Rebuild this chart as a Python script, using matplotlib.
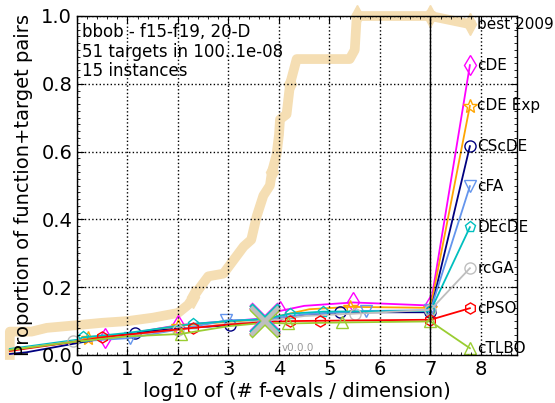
import matplotlib
matplotlib.use("Agg")
import matplotlib.pyplot as plt
from matplotlib.ticker import MultipleLocator

# Dane
best_x = [-1.33, -1.33, -0.9, -0.6, 0.0, 0.5, 1.0, 1.5, 2.0, 2.2, 2.3, 2.44, 2.6, 2.9,
          3.1, 3.3, 3.45, 3.56, 3.69, 3.82, 3.86, 3.95, 4.0, 4.02, 4.15, 4.22, 4.35,
          5.4, 5.5, 5.54, 7.0]
best_y = [0.0, 0.069, 0.069, 0.08, 0.088, 0.095, 0.1, 0.11, 0.124, 0.148, 0.17, 0.2, 0.232, 0.24,
          0.28, 0.32, 0.34, 0.41, 0.47, 0.5, 0.54, 0.59, 0.65, 0.695, 0.71, 0.8, 0.873,
          0.873, 0.9, 1.0, 1.0]
best_marks = [10, 20, 25, 29, 30]

names = ["cDE", "cDE Exp", "CScDE", "cFA", "DEcDE", "rcGA", "cPSO", "cTLBO"]
colors = ["#FF00FF", "#FFA500", "#000080", "#6495ED", "#00BFBF", "#BEBEBE", "#FF0000", "#9ACD32"]
markers = ["d", "*", "o", "v", "p", "o", "h", "^"]

curves_x = [
    [-1.33, 0.0, 0.55, 1.0, 2.0, 3.0, 3.72, 4.02, 4.5, 5.47, 7.0],
    [-1.33, 0.0, 0.22, 1.0, 2.0, 3.0, 3.72, 4.0, 4.6, 5.41, 7.0],
    [-1.33, -1.0, 0.0, 1.15, 2.0, 3.03, 3.72, 4.5, 5.21, 7.0],
    [-1.33, 0.0, 1.05, 2.0, 2.96, 3.72, 4.5, 5.72, 7.0],
    [-1.33, 0.0, 0.12, 1.0, 2.3, 3.0, 3.72, 4.22, 4.88, 7.0],
    [-1.33, -0.07, 1.0, 2.0, 3.0, 3.72, 4.5, 5.5, 7.0],
    [-1.33, 0.0, 0.49, 1.0, 2.3, 3.0, 3.72, 4.22, 4.81, 7.0],
    [-1.33, 0.0, 1.0, 2.05, 3.0, 3.72, 4.18, 5.24, 7.0],
]
curves_y = [
    [0.015, 0.042, 0.05, 0.062, 0.088, 0.1, 0.108, 0.13, 0.145, 0.155, 0.146],
    [0.015, 0.04, 0.05, 0.062, 0.086, 0.098, 0.105, 0.115, 0.135, 0.142, 0.139],
    [0.003, 0.008, 0.035, 0.066, 0.078, 0.088, 0.1, 0.118, 0.126, 0.126],
    [0.015, 0.04, 0.05, 0.075, 0.102, 0.105, 0.12, 0.13, 0.132],
    [0.018, 0.045, 0.052, 0.065, 0.092, 0.1, 0.106, 0.122, 0.128, 0.13],
    [0.015, 0.04, 0.058, 0.075, 0.092, 0.1, 0.115, 0.122, 0.133],
    [0.012, 0.04, 0.052, 0.06, 0.08, 0.09, 0.097, 0.1, 0.101, 0.104],
    [0.015, 0.04, 0.055, 0.062, 0.085, 0.095, 0.093, 0.096, 0.099],
]
curves_marks = [
    [2, 4, 7, 9, 10],
    [2, 4, 9, 10],
    [3, 5, 8, 9],
    [2, 4, 7, 8],
    [2, 4, 7, 8, 9],
    [1, 3, 7, 8],
    [2, 4, 7, 8, 9],
    [3, 6, 7, 8],
]
big_x_pos = 3.72

# etykiety po prawej: od gory cDE ... cTLBO
label_x = 7.78
label_y = [0.855, 0.735, 0.616, 0.498, 0.377, 0.256, 0.138, 0.02]
best_label_y = 0.976

fig = plt.figure(figsize=(5.55, 4.03), dpi=100)
ax = fig.add_axes([77 / 555, 48 / 403, 440 / 555, 339 / 403])
ax.set_axisbelow(False)

ax.plot(best_x, best_y, color="#F5DEB3", lw=7, marker="d", ms=11, markevery=best_marks,
        mec="#F5DEB3", mfc="#F5DEB3", clip_on=False, zorder=1.2)
ax.plot([best_x[-1], label_x], [best_y[-1], best_label_y], color="#F5DEB3", lw=7,
        clip_on=False, zorder=1.2)
ax.plot([label_x], [best_label_y], marker="d", ms=11, color="#F5DEB3", clip_on=False, zorder=1.2)
ax.text(label_x + 0.15, best_label_y, "best 2009", fontsize=11, va="center", ha="left")

for i in range(len(names)):
    xs, ys, c, m = curves_x[i], curves_y[i], colors[i], markers[i]
    ms = 10 if m in ("d", "*") else 8
    ax.plot(xs, ys, color=c, lw=1.3, marker=m, ms=ms, markevery=curves_marks[i],
            mfc="none", mec=c, mew=1.0, clip_on=False, zorder=2)
    ax.plot([xs[-1], label_x], [ys[-1], label_y[i]], color=c, lw=1.3, clip_on=False, zorder=2)
    ax.plot([label_x], [label_y[i]], marker=m, ms=ms, mfc="none", mec=c, mew=1.0,
            clip_on=False, zorder=2)
    ax.text(label_x + 0.15, label_y[i], names[i], fontsize=11, va="center", ha="left")

# duze krzyzyki
for i in [0, 1, 2, 3, 4, 6, 7, 5]:
    j = curves_x[i].index(big_x_pos)
    ax.plot([big_x_pos], [curves_y[i][j]], marker="x", ms=20, mew=3.2, color=colors[i],
            zorder=2.1, clip_on=False)

ax.axvline(7, color="k", lw=1, zorder=2.2)

ax.set_xlim(0, 8.713)
ax.set_ylim(0, 1)
ax.xaxis.set_major_locator(MultipleLocator(1))
ax.xaxis.set_minor_locator(MultipleLocator(0.2))
ax.yaxis.set_major_locator(MultipleLocator(0.2))
ax.yaxis.set_minor_locator(MultipleLocator(0.02))
ax.set_yticklabels(["%.1f" % v for v in ax.get_yticks()])
ax.tick_params(which="both", direction="in", top=True, right=True, labelsize=14)
ax.tick_params(which="major", length=5)
ax.tick_params(which="minor", length=2.5)
ax.grid(True, which="major", color="k", ls=":", lw=1)
for s in ax.spines.values():
    s.set_linewidth(1)

ax.set_xlabel("log10 of (# f-evals / dimension)", fontsize=14, labelpad=2)
ax.set_ylabel("Proportion of function+target pairs", fontsize=14, labelpad=6)

ax.text(0.011, 0.979, "bbob - f15-f19, 20-D\n51 targets in 100..1e-08\n15 instances",
        transform=ax.transAxes, fontsize=12, va="top", ha="left", linespacing=1.1)
ax.text(4.05, 0.012, "v0.0.0", color="#999999", fontsize=7.5, ha="left", va="baseline")

fig.savefig("out.png", dpi=100)
